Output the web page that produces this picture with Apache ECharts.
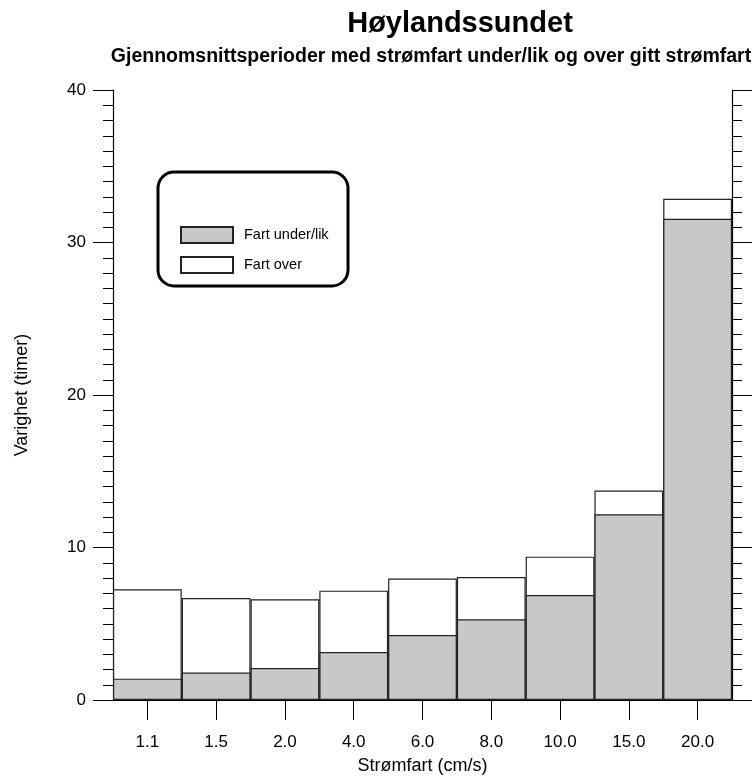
<!DOCTYPE html>
<html>
<head>
<meta charset="utf-8">
<script src="https://cdn.jsdelivr.net/npm/echarts@6/dist/echarts.min.js"></script>
<style>
html,body{margin:0;padding:0;background:#fff;}
#chart{width:756px;height:781px;}
</style>
</head>
<body>
<div id="chart"></div>
<script>
// Data
var categories = ['1.1', '1.5', '2.0', '4.0', '6.0', '8.0', '10.0', '15.0', '20.0'];
// Average period with speed under/equal given speed (grey part, hours)
var underValues = [1.4, 1.8, 2.1, 3.15, 4.26, 5.29, 6.89, 12.18, 31.56];
// Top of the white box (hours)
var overTopValues = [7.26, 6.69, 6.6, 7.17, 7.96, 8.07, 9.4, 13.73, 32.87];
var yTicks = [0, 10, 20, 30, 40];

var FONT = 'Liberation Sans, Arial, sans-serif';
var chart = echarts.init(document.getElementById('chart'), null, {renderer: 'canvas'});

var axisLineStyle = {color: '#000', width: 1.2};

var option = {
  backgroundColor: '#fff',
  animation: false,
  title: [
    {text: 'Høylandssundet', left: 455, top: 4, textAlign: 'center',
     textStyle: {fontFamily: FONT, fontSize: 29, fontWeight: 'bold', color: '#000'}},
    {text: 'Gjennomsnittsperioder med strømfart under/lik og over gitt strømfart', left: 426, top: 42, textAlign: 'center',
     textStyle: {fontFamily: FONT, fontSize: 19.5, fontWeight: 'bold', color: '#000'}}
  ],
  legend: {
    orient: 'vertical',
    left: 175, top: 221,
    icon: 'rect',
    itemWidth: 52, itemHeight: 16, itemGap: 12,
    data: ['Fart under/lik', 'Fart over'],
    textStyle: {fontFamily: FONT, fontSize: 14.5, color: '#000', padding: [0, 0, 0, 6]},
    selectedMode: false
  },
  graphic: [
    {type: 'rect', shape: {x: 158, y: 172, width: 190, height: 114, r: 16},
     style: {fill: 'none', stroke: '#000', lineWidth: 3}, z: 10}
  ],
  grid: {left: 113, right: 24, top: 90, bottom: 81, containLabel: false},
  xAxis: [
    {type: 'category', data: categories, position: 'bottom', boundaryGap: true,
     axisLine: {show: true, lineStyle: axisLineStyle},
     axisTick: {show: true, alignWithLabel: true, length: 20, lineStyle: {color: '#000', width: 1}},
     axisLabel: {fontFamily: FONT, fontSize: 17, color: '#000', margin: 34},
     name: 'Strømfart (cm/s)', nameLocation: 'middle', nameGap: 57,
     nameTextStyle: {fontFamily: FONT, fontSize: 18, color: '#000'},
     splitLine: {show: false}},
    {type: 'category', data: categories, position: 'top', boundaryGap: true,
     axisLine: {show: true, lineStyle: axisLineStyle},
     axisTick: {show: true, alignWithLabel: true, length: 20, lineStyle: {color: '#000', width: 1}},
     axisLabel: {show: false}, splitLine: {show: false}}
  ],
  yAxis: [
    {type: 'value', min: 0, max: 40, interval: 10, position: 'left',
     axisLine: {show: true, lineStyle: axisLineStyle},
     axisTick: {show: true, length: 20, lineStyle: {color: '#000', width: 1}},
     minorTick: {show: true, splitNumber: 10, length: 10, lineStyle: {color: '#000', width: 1}},
     axisLabel: {fontFamily: FONT, fontSize: 17, color: '#000', margin: 27,
       formatter: function (v) { return yTicks.indexOf(v) >= 0 ? String(v) : ''; }},
     name: 'Varighet (timer)', nameLocation: 'middle', nameGap: 82, nameRotate: 90,
     nameTextStyle: {fontFamily: FONT, fontSize: 18, color: '#000'},
     splitLine: {show: false}},
    {type: 'value', min: 0, max: 40, interval: 10, position: 'right',
     axisLine: {show: true, lineStyle: axisLineStyle},
     axisTick: {show: true, length: 20, lineStyle: {color: '#000', width: 1}},
     minorTick: {show: true, splitNumber: 10, length: 10, lineStyle: {color: '#000', width: 1}},
     axisLabel: {show: false}, splitLine: {show: false}}
  ],
  series: [
    {name: 'Fart over', type: 'bar', xAxisIndex: 0, yAxisIndex: 0,
     data: overTopValues, barWidth: '100%', barGap: '-100%',
     itemStyle: {color: '#ffffff', borderColor: '#222', borderWidth: 1.2}},
    {name: 'Fart under/lik', type: 'bar', xAxisIndex: 0, yAxisIndex: 0,
     data: underValues, barWidth: '100%', barGap: '-100%',
     itemStyle: {color: '#c8c8c8', borderColor: '#222', borderWidth: 1.2}}
  ]
};
chart.setOption(option);
</script>
</body>
</html>
